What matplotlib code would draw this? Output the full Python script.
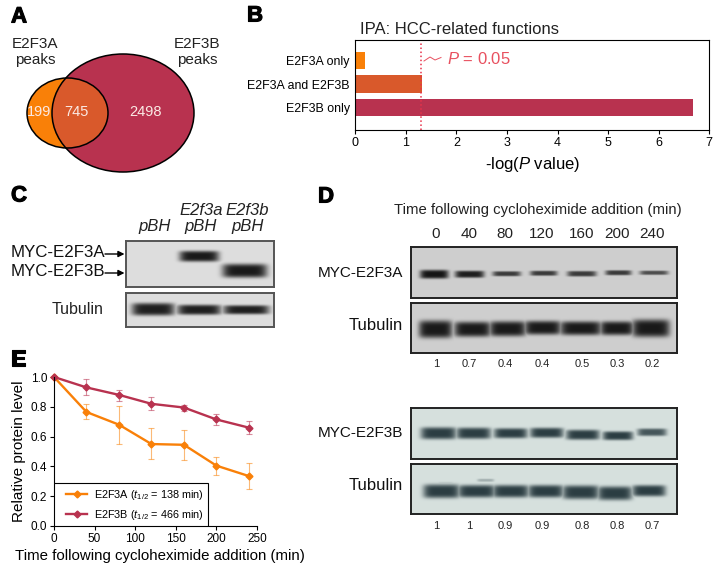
import matplotlib
matplotlib.use('Agg')
import matplotlib.pyplot as plt
import matplotlib.patheffects as pe
import numpy as np
from matplotlib.patches import Ellipse, Rectangle

plt.rcParams['font.family'] = ['Liberation Sans', 'DejaVu Sans']
plt.rcParams['mathtext.fontset'] = 'custom'
plt.rcParams['mathtext.rm'] = 'Liberation Sans'
plt.rcParams['mathtext.it'] = 'Liberation Sans:italic'

W, H = 721, 573
ORANGE = '#F98008'
OVERLAP = '#D9592B'
RED = '#B8324F'

# panel A
venn_counts = ['199', '745', '2498']

# panel B
ipa_labels = ['E2F3A only', 'E2F3A and E2F3B', 'E2F3B only']
ipa_values = [0.2, 1.32, 6.67]
ipa_threshold = 1.3

# panel C
c_lanes = ['pBH', 'E2f3a\npBH', 'E2f3b\npBH']

# panel D
times = ['0', '40', '80', '120', '160', '200', '240']
d_ratio_a = ['1', '0.7', '0.4', '0.4', '0.5', '0.3', '0.2']
d_ratio_b = ['1', '1', '0.9', '0.9', '0.8', '0.8', '0.7']

# panel E
time_min = [0, 40, 80, 120, 160, 200, 240]
e2f3a = [1.0, 0.765, 0.68, 0.55, 0.545, 0.405, 0.335]
e2f3a_hi = [1.0, 0.82, 0.805, 0.655, 0.645, 0.46, 0.425]
e2f3a_lo = [1.0, 0.715, 0.55, 0.45, 0.445, 0.345, 0.245]
e2f3b = [1.0, 0.93, 0.88, 0.82, 0.795, 0.715, 0.66]
e2f3b_hi = [1.0, 0.985, 0.915, 0.865, 0.81, 0.75, 0.705]
e2f3b_lo = [1.0, 0.88, 0.84, 0.78, 0.775, 0.68, 0.62]


def px_axes(x0, y0, x1, y1, **kw):
    return fig.add_axes([x0 / W, 1 - y1 / H, (x1 - x0) / W, (y1 - y0) / H], **kw)


def blot(box, bands, bg, dark, edge='#333333', lw=1.4):
    # box and bands are in figure pixels, bands are (cx, cy, half width, half height, strength)
    x0, y0, x1, y1 = box
    ax = px_axes(x0, y0, x1, y1)
    xx, yy = np.meshgrid(np.arange(x0, x1, 0.5), np.arange(y0, y1, 0.5))
    img = np.zeros(xx.shape)
    for cx, cy, hw, hh, strength in bands:
        img = np.maximum(img, strength * np.exp(-np.abs((xx - cx) / (hw * 1.04)) ** 6 - np.abs((yy - cy) / (hh * 1.25)) ** 4))
    bg, dark = np.array(bg), np.array(dark)
    ax.imshow(bg + (dark - bg) * img[..., None], extent=(x0, x1, y1, y0), aspect='auto')
    ax.set_xticks([])
    ax.set_yticks([])
    for s in ax.spines.values():
        s.set_linewidth(lw)
        s.set_color(edge)


fig = plt.figure(figsize=(W / 100, H / 100), dpi=100)

# overlay in figure pixels for the venn and all loose labels
ov = fig.add_axes([0, 0, 1, 1], zorder=5)
ov.set_xlim(0, W)
ov.set_ylim(H, 0)
ov.axis('off')

for letter, x, y in [('A', 11, 17), ('B', 247, 16), ('C', 11, 196), ('D', 318, 197), ('E', 11, 360)]:
    ov.text(x, y, letter, fontsize=16, fontweight='bold', ha='left', va='center', color='black',
            path_effects=[pe.withStroke(linewidth=0.8, foreground='black')])

# A
small = ((67.5, 113), 81, 70)
big = ((123, 113), 142, 118)
ov.add_patch(Ellipse(small[0], small[1], small[2], fc=ORANGE, ec='none'))
big_fill = Ellipse(big[0], big[1], big[2], fc=RED, ec='none')
ov.add_patch(big_fill)
mid = Ellipse(small[0], small[1], small[2], fc=OVERLAP, ec='none')
ov.add_patch(mid)
mid.set_clip_path(big_fill)
ov.add_patch(Ellipse(small[0], small[1], small[2], fc='none', ec='black', lw=1.1))
ov.add_patch(Ellipse(big[0], big[1], big[2], fc='none', ec='black', lw=1.1))
for s, x in zip(venn_counts, [39, 76.5, 145]):
    ov.text(x, 112.5, s, color='#FBE9E4', fontsize=10.5, ha='center', va='center')
ov.text(35, 52, 'E2F3A\npeaks', fontsize=11, ha='center', va='center', linespacing=1.25, color='#222222')
ov.text(197, 52, 'E2F3B\npeaks', fontsize=11, ha='center', va='center', linespacing=1.25, color='#222222')

# B
axb = px_axes(355.3, 40, 709.3, 130)
axb.barh(range(3), ipa_values, height=0.74, color=[ORANGE, OVERLAP, RED])
axb.axvline(ipa_threshold, color='#E8324A', ls=':', lw=1.1)
axb.set_xlim(0, 7)
axb.set_ylim(2.95, -0.88)
axb.set_yticks(range(3), ipa_labels, fontsize=8.9)
axb.tick_params(axis='y', length=0, pad=4)
axb.tick_params(axis='x', labelsize=9, length=3, pad=2)
axb.set_xlabel('-log($P$ value)', fontsize=12, labelpad=4)
axb.spines['top'].set_linewidth(0.8)
axb.spines['right'].set_linewidth(0.8)
axb.set_title('IPA: HCC-related functions', fontsize=12, loc='left', x=0.012, y=1.0, pad=4, color='#222222')
ov.plot([424, 430, 435, 441], [61, 57, 60, 57.5], color='#E8505F', lw=0.7)
ov.text(447, 59, '$P$ = 0.05', color='#E8505F', fontsize=12, va='center')

# C
c_xs = [154.7, 201, 247.7]
blot((126, 241, 274, 287), [(199, 256, 19, 4.3, 1), (244.5, 270.5, 21.5, 5.5, 1)], (.87, .87, .87), (.1, .1, .1), '#555555')
blot((126, 293, 274, 327), [(153, 309, 20.5, 5, 1), (199, 309.5, 21, 4, 1), (246, 309.5, 22, 3.6, 1)], (.87, .87, .87), (.12, .12, .12), '#555555')
for s, x in zip(c_lanes, c_xs):
    ov.text(x, 234.5, s, style='italic', fontsize=12, ha='center', va='bottom', linespacing=1.12, color='#222222')
ov.text(11, 252.7, 'MYC-E2F3A', fontsize=12.2, va='center', color='#111111')
ov.text(11, 271.7, 'MYC-E2F3B', fontsize=12.2, va='center', color='#111111')
for y in [254, 273]:
    ov.annotate('', xy=(124.5, y), xytext=(105, y), arrowprops=dict(arrowstyle='-|>', color='black', lw=1, mutation_scale=9, shrinkA=0, shrinkB=0))
ov.text(104, 309, 'Tubulin', fontsize=11.5, ha='right', va='center', color='#222222')

# D
d_xs = [436, 469, 505, 542, 582, 617, 652]
ov.text(537.5, 210, 'Time following cycloheximide addition (min)', fontsize=10.75, ha='center', va='center', color='#222222')
for s, x in zip(times, d_xs):
    ov.text(x, 234, s, fontsize=11, ha='center', va='center', color='#222222')
bg_gray = (.81, .81, .81)
blot((410.7, 247, 677, 298),
     list(zip([433.7, 469, 506, 543, 581, 617.5, 653], [274, 274, 273.5, 273, 273.5, 272.5, 272.5],
              [13.7, 14, 13.5, 13, 14, 12.5, 13.7], [3.5, 2.8, 2, 2, 2.2, 2, 1.7],
              [1, .95, .8, .8, .8, .8, .7])),
     bg_gray, (.08, .08, .08), '#222222')
blot((410.7, 303, 677, 353),
     list(zip([435, 472, 507, 542, 580, 616, 650], [329, 329, 328.5, 327.5, 328, 328, 328],
              [16, 17.5, 17.5, 17.5, 20, 16, 18], [7, 6, 6, 5.5, 5.5, 5.5, 7], [1] * 7)),
     bg_gray, (.1, .1, .1), '#222222')
bg_blue = (.84, .88, .87)
dark_blue = (.17, .24, .26)
blot((410.7, 408, 677, 459),
     list(zip([438, 473, 510, 546, 582, 617, 651], [433, 433, 433, 432.5, 434.5, 435.5, 432],
              [17, 16.5, 16, 16, 16, 14.5, 14], [4.8, 4.5, 4, 4, 4, 3.5, 3], [1, 1, 1, 1, 1, 1, .85])),
     bg_blue, dark_blue, '#222222')
blot((410.7, 464, 677, 514),
     list(zip([441, 476, 510, 545, 580, 614, 648, 485, 445], [491, 491, 491, 491, 492, 493, 490.5, 480, 483],
              [17.5, 18, 17.5, 17, 17.5, 16.5, 16, 8, 8], [5.5, 5, 5, 5, 5.5, 5.5, 4.5, 1.2, 1.2],
              [1, 1, 1, 1, 1, 1, 1, .3, .15])),
     bg_blue, dark_blue, '#222222')
for y, ratios in [(363, d_ratio_a), (525, d_ratio_b)]:
    for s, x in zip(ratios, d_xs):
        ov.text(x, y + 1, s, fontsize=8, ha='center', va='center', color='#222222')
for s, y, fs in [('MYC-E2F3A', 273, 11), ('Tubulin', 326, 12), ('MYC-E2F3B', 433, 11), ('Tubulin', 486, 12)]:
    ov.text(403, y, s, fontsize=fs, ha='right', va='center', color='#111111')

# E
axe = px_axes(54, 377, 257, 526)
for ys, hi, lo, col in [(e2f3a, e2f3a_hi, e2f3a_lo, ORANGE), (e2f3b, e2f3b_hi, e2f3b_lo, RED)]:
    ys = np.array(ys)
    axe.errorbar(time_min, ys, yerr=[ys - np.array(lo), np.array(hi) - ys], fmt='none',
                 ecolor=col, elinewidth=0.8, capsize=2, capthick=0.8, alpha=0.55, clip_on=False)
axe.plot(time_min, e2f3a, color=ORANGE, lw=1.7, marker='D', ms=3.5, clip_on=False,
         label=r'E2F3A ($t_{1/2}$ = 138 min)')
axe.plot(time_min, e2f3b, color=RED, lw=1.7, marker='D', ms=3.5, clip_on=False,
         label=r'E2F3B ($t_{1/2}$ = 466 min)')
axe.set_xlim(0, 250)
axe.set_ylim(0, 1)
axe.set_xticks([0, 50, 100, 150, 200, 250])
axe.set_yticks([0, 0.2, 0.4, 0.6, 0.8, 1.0])
axe.tick_params(labelsize=8.5, length=3, pad=2)
axe.spines['top'].set_visible(False)
axe.spines['right'].set_visible(False)
axe.set_ylabel('Relative protein level', fontsize=11, labelpad=3)
axe.set_xlabel('Time following cycloheximide addition (min)', fontsize=10.8, labelpad=5)
axe.xaxis.set_label_coords(0.523, -0.155)
# legend frame is its own rectangle so the entries can sit with uneven margins
axe.add_patch(Rectangle((0, 0), 153.7 / 203, 43 / 149, transform=axe.transAxes, fc='white', ec='black', lw=0.8, zorder=4))
leg = axe.legend(loc='lower left', bbox_to_anchor=(12 / 203, 4.5 / 149), borderaxespad=0, borderpad=0, frameon=False,
                 fontsize=7.8, handlelength=1.95, handletextpad=0.65, labelspacing=0.5)
leg.set_zorder(5)

fig.savefig('out.png', dpi=100)
